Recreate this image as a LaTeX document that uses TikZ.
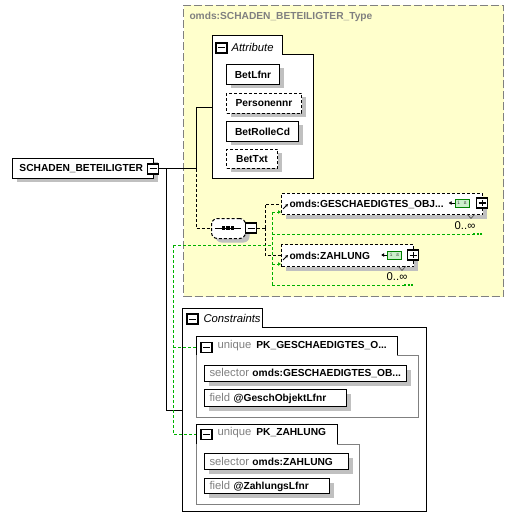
\documentclass[tikz,border=0pt]{standalone}
\usepackage{fontspec}
\setmainfont{Liberation Sans}
\usetikzlibrary{positioning,shadows,arrows.meta}

\definecolor{typeyellow}{RGB}{255,255,204}
\definecolor{shadowgray}{RGB}{192,192,192}
\definecolor{labelgray}{RGB}{128,128,128}
\definecolor{grn}{RGB}{0,176,0}
\definecolor{isgreen}{RGB}{204,240,204}
\definecolor{isborder}{RGB}{0,128,0}

\newcommand{\bfont}{\fontsize{10.2}{12}\selectfont\bfseries}
\newcommand{\rfont}{\fontsize{11.3}{13}\selectfont\mdseries}

\tikzset{
  boxshadow/.style={drop shadow={shadow xshift=4pt, shadow yshift=-4pt, fill=shadowgray, opacity=1}},
  condash/.style={dash pattern=on 3pt off 2pt},
  typebox/.style={draw=labelgray, dash pattern=on 8pt off 3pt, fill=typeyellow, anchor=north west, inner sep=0pt},
  elembox/.style={draw, fill=white, anchor=north west, inner xsep=7pt, inner ysep=0pt, font=\bfont, boxshadow},
  optelem/.style={elembox, condash, inner xsep=8pt},
  attrbox/.style={draw, fill=white, anchor=north west, inner sep=0pt, font=\bfont, boxshadow},
  optattr/.style={attrbox, condash},
  seqbox/.style={draw, condash, fill=white, rounded corners=6pt, anchor=north west, inner sep=0pt, boxshadow},
  selbox/.style={draw, fill=white, anchor=north west, inner xsep=5pt, inner ysep=0pt, font=\bfont, boxshadow},
  btnbox/.style={draw, fill=white, line width=1.1pt, minimum width=11pt, minimum height=10pt, inner sep=0pt},
  minusbtn/.style={btnbox, path picture={
      \draw[line width=1pt] ([xshift=2pt]path picture bounding box.west) -- ([xshift=-2pt]path picture bounding box.east);}},
  plusbtn/.style={btnbox, path picture={
      \draw[line width=1pt] ([xshift=2pt]path picture bounding box.west) -- ([xshift=-2pt]path picture bounding box.east)
        ([yshift=-2pt]path picture bounding box.north) -- ([yshift=2pt]path picture bounding box.south);}},
  isicon/.style={draw=isborder, fill=isgreen, line width=0.8pt, minimum width=14pt, minimum height=8pt, inner sep=0pt,
      font=\ttfamily\fontsize{6}{6}\selectfont, text=black!70},
  grptitle/.style={anchor=west, inner sep=0pt, font=\rfont\itshape},
  multlabel/.style={inner sep=0pt, font=\rfont},
  grnline/.style={draw=grn, dash pattern=on 3pt off 2pt, line width=1pt},
  grndots/.style={draw=grn, line width=2pt, dash pattern=on 2pt off 1.5pt},
  refarrow/.style={-{Stealth[length=3pt,width=3pt]}, line width=0.8pt},
}

\begin{document}
\begin{tikzpicture}[x=1pt, y=-1pt, line width=1pt]
    \useasboundingbox (0,0) rectangle (513,529);

    % Complex type
    \node[typebox, minimum width=320pt, minimum height=291pt] (type) at (183,5) {};
    \node[anchor=west, inner sep=0pt, text=labelgray, font=\bfont] (typename) at (189,17) {omds:SCHADEN\_BETEILIGTER\_Type};

    % Root element
    \node[elembox, minimum height=20pt, text width=127pt] (schaden) at (12,158) {SCHADEN\_BETEILIGTER};
    \node[minusbtn] (schadenbtn) at (153,169) {};

    % Attribute group
    \draw[fill=white] (212,36) -- (282,36) -- (282,55) -- (313,55) -- (313,179) -- (212,179) -- cycle;
    \node[minusbtn] (attrbtn) at (221.5,48) {};
    \node[grptitle] (attrtitle) at (231,47) {Attribute};
    \node[attrbox, minimum width=53pt, minimum height=20pt] (betlfnr) at (226,64) {BetLfnr};
    \node[optattr, minimum width=75pt, minimum height=20pt] (personennr) at (226,93) {Personennr};
    \node[attrbox, minimum width=72pt, minimum height=20pt] (betrolle) at (226,121) {BetRolleCd};
    \node[optattr, minimum width=51pt, minimum height=19pt] (bettxt) at (226,149) {BetTxt};

    % Sequence
    \node[seqbox, minimum width=34pt, minimum height=20pt] (seq) at (211,218) {};
    \draw (215,228) -- (241,228);
    \foreach \x in {223.5,228,232.5}
        \fill (\x-1.8,226.2) rectangle ++(3.6,3.6);
    \node[minusbtn] (seqbtn) at (251,228) {};

    % Element GESCHAEDIGTES_OBJEKT
    \node[optelem, minimum height=21pt, text width=185pt] (gesch) at (281,193) {omds:GESCHAEDIGTES\_OBJ...};
    \node[isicon] (geschis) at (462,203) {i s};
    \node[plusbtn] (geschbtn) at (482,203) {};
    \draw[-{Latex[length=3pt,width=4pt]}, line width=0.8pt] (geschis.west) -- ++(-6,0);
    \draw[refarrow] (283,209) -- (288,204);
    \draw[labelgray!60!black, line width=0.6pt] (467,214) -- (471,218.5) -- (475,214);
    \node[multlabel] (geschmult) at (465,226) {0..∞};

    % Element ZAHLUNG
    \node[optelem, minimum height=22pt, text width=116pt] (zahlung) at (281,244) {omds:ZAHLUNG};
    \node[isicon] (zahlungis) at (394.5,255) {i s};
    \node[plusbtn] (zahlungbtn) at (413,255) {};
    \draw[-{Latex[length=3pt,width=4pt]}, line width=0.8pt] (zahlungis.west) -- ++(-6,0);
    \draw[refarrow] (283,260) -- (288,255);
    \draw[labelgray!60!black, line width=0.6pt] (398,266) -- (402,270.5) -- (406,266);
    \node[multlabel] (zahlungmult) at (397,277) {0..∞};

    % Constraints group
    \draw[fill=white] (182,308) -- (262,308) -- (262,327) -- (426,327) -- (426,511) -- (182,511) -- cycle;
    \node[minusbtn] (constrbtn) at (192.5,319) {};
    \node[grptitle] (constrtitle) at (203,318) {Constraints};

    % Unique PK_GESCHAEDIGTES_OBJEKT
    \draw[labelgray] (397,355) -| (418,417) -| (196,355);
    \draw (196,355) |- (397,336) -- (397,355);
    \node[minusbtn] (uq1btn) at (206.5,347.5) {};
    \node[anchor=west, inner sep=0pt, font=\bfont] (uq1name) at (217,346) {{\rfont\color{labelgray}unique}\hspace{5pt}PK\_GESCHAEDIGTES\_O...};
    \node[selbox, minimum height=16pt, text width=192pt] (uq1sel) at (204,365) {{\rfont\color{labelgray}selector} omds:GESCHAEDIGTES\_OB...};
    \node[selbox, minimum height=17pt, text width=132pt] (uq1field) at (204,389) {{\rfont\color{labelgray}field} @GeschObjektLfnr};

    % Unique PK_ZAHLUNG
    \draw[labelgray] (337,444) -| (359,504) -| (196,444);
    \draw (196,444) |- (337,424) -- (337,444);
    \node[minusbtn] (uq2btn) at (206.5,434.5) {};
    \node[anchor=west, inner sep=0pt, font=\bfont] (uq2name) at (217,433) {{\rfont\color{labelgray}unique}\hspace{5pt}PK\_ZAHLUNG};
    \node[selbox, minimum height=16pt, text width=134pt] (uq2sel) at (204,453) {{\rfont\color{labelgray}selector} omds:ZAHLUNG};
    \node[selbox, minimum height=15pt, text width=115pt] (uq2field) at (204,478) {{\rfont\color{labelgray}field} @ZahlungsLfnr};

    % Connectors
    \coordinate (fork) at (196,169);
    \coordinate (attrin) at (212,108);
    \coordinate (constrfork) at (166,169);
    \coordinate (constrin) at (182,410);
    \coordinate (seqfork) at (265,228);
    \draw (schadenbtn.east) -- (fork) |- (attrin);
    \draw[condash] (fork) |- (seq.west);
    \draw (constrfork) |- (constrin);
    \draw[condash] (seqbtn.east) -- (seqfork);
    \draw[condash] (seqfork) |- (gesch.west);
    \draw[condash] (seqfork) |- (zahlung.west);

    % Identity constraint links
    \coordinate (grnleft) at (173,245);
    \coordinate (grnfork) at (272,245);
    \coordinate (grntop) at (272,212);
    \coordinate (grnmid) at (272,264);
    \coordinate (grnsel) at (272,234);
    \coordinate (grnbot) at (272,285);
    \coordinate (uq1in) at (196,347);
    \coordinate (uq2in) at (196,434);
    \coordinate (geschdots) at (473,234);
    \coordinate (zahlungdots) at (404,285);
    \draw[grnline] (grnleft) -- (grnfork);
    \draw[grnline] (grntop) -- (grnbot);
    \draw[grnline, -{Latex[length=3pt,width=4pt]}] (grntop) -- (grntop -| gesch.west);
    \draw[grnline, -{Latex[length=3pt,width=4pt]}] (grnmid) -- (grnmid -| zahlung.west);
    \draw[grnline] (grnsel) -- (geschdots);
    \draw[grndots] (geschdots) -- ++(10,0);
    \draw[grnline] (grnbot) -- (zahlungdots);
    \draw[grndots] (zahlungdots) -- ++(9,0);
    \draw[grnline] (grnleft) |- (uq2in);
    \draw[grnline] (grnleft |- uq1in) -- (uq1in);
\end{tikzpicture}
\end{document}
